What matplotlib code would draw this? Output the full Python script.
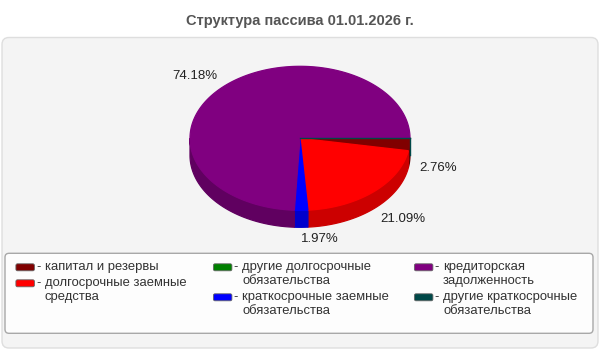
import textwrap
import numpy as np
import matplotlib.pyplot as plt
from matplotlib.patches import FancyBboxPatch, Polygon

plt.rcParams['font.family'] = ['Liberation Sans', 'DejaVu Sans']

title = 'Структура пассива 01.01.2026 г.'
names = ['капитал и резервы',
         'долгосрочные заемные средства',
         'другие долгосрочные обязательства',
         'краткосрочные заемные обязательства',
         'кредиторская задолженность',
         'другие краткосрочные обязательства']
shares = [2.76, 21.09, 0.0, 1.97, 74.18, 0.0]
top_colors = ['#800000', '#ff0000', '#008000', '#0000ff', '#800080', '#004848']
side_colors = ['#600000', '#cc0000', '#006000', '#0000cc', '#600060', '#003636']

fig = plt.figure(figsize=(6, 3.5), dpi=100)
ax = fig.add_axes([0, 0, 1, 1])
ax.set_xlim(0, 600)
ax.set_ylim(350, 0)
ax.axis('off')

# grey panel and title
ax.add_patch(FancyBboxPatch((2, 37.5), 596, 310.5, boxstyle='round,pad=0,rounding_size=7',
                            fc='#f4f4f4', ec='#dedede', lw=1))
ax.text(300, 21.5, title, ha='center', va='center', fontsize=10.5,
        fontweight='bold', color='#555555')

# pseudo 3d pie, clockwise from 3 o'clock
cx, cy, rx, ry, depth = 300, 138.3, 110, 72, 17
total = sum(shares)
bounds = np.concatenate([[0], np.cumsum(shares)]) / total * 2 * np.pi


def arc(t0, t1, dy=0):
    t = np.linspace(t0, t1, max(int(abs(t1 - t0) * 60), 2))
    return np.column_stack([cx + rx * np.cos(t), cy + dy + ry * np.sin(t)])


# a zero slice only shows as an edge when nothing is drawn after it
def edge_visible(i):
    return shares[i] == 0 and all(v == 0 for v in shares[i + 1:])


# side walls (front half only)
for i in range(len(shares)):
    if shares[i] > 0:
        a0, a1 = max(bounds[i], 0), min(bounds[i + 1], np.pi)
        if a1 > a0:
            pts = np.vstack([arc(a0, a1), arc(a1, a0, depth)])
            ax.add_patch(Polygon(pts, closed=True, fc=side_colors[i], ec=side_colors[i], lw=0.9))
    elif edge_visible(i):
        t = bounds[i]
        ex, ey = cx + rx * np.cos(t), cy + ry * max(np.sin(t), 0)
        ax.plot([ex, ex], [ey, ey + depth], color=top_colors[i], lw=1)

# top face
for i in range(len(shares)):
    if shares[i] > 0:
        pts = np.vstack([[cx, cy], arc(bounds[i], bounds[i + 1])])
        ax.add_patch(Polygon(pts, closed=True, fc=top_colors[i], ec=top_colors[i], lw=0.9))
    elif edge_visible(i):
        t = bounds[i]
        ax.plot([cx, cx + rx * np.cos(t)], [cy, cy + ry * np.sin(t)], color=top_colors[i], lw=1)

# percent labels
for i in range(len(shares)):
    if shares[i] <= 0:
        continue
    mid = (bounds[i] + bounds[i + 1]) / 2
    c, s = np.cos(mid), np.sin(mid)
    x = cx + rx * c + 10 * c
    y = cy + ry * s + (depth if s > 0 else 0) + np.sign(s) * 6.5 + 5 * s
    ax.text(x, y, '%.2f%%' % shares[i], ha='left' if c >= 0 else 'right', va='center',
            fontsize=9.5, color='#222222')

# legend
ax.add_patch(FancyBboxPatch((5, 253.3), 588, 80, boxstyle='round,pad=0,rounding_size=4',
                            fc='#fdfdfd', ec='#a8a8a8', lw=1))
col_x = [16, 213.5, 414.5]
per_col = 2
for col in range(len(col_x)):
    y = 267.3
    for k in range(per_col):
        i = col * per_col + k
        x0 = col_x[col]
        ax.add_patch(FancyBboxPatch((x0 + 1.5, y - 1.9), 15.3, 3.8, boxstyle='round,pad=1.6',
                                    fc=top_colors[i], ec='#666666', lw=0.6))
        ax.text(x0 + 22.5, y, '-', ha='center', va='center', fontsize=9.4, color='#333333')
        lines = textwrap.wrap(names[i], 21)
        for j, line in enumerate(lines):
            ax.text(x0 + 28.7, y + 14 * j, line, ha='left', va='center', fontsize=9.4, color='#333333')
        y += 14 * (len(lines) - 1) + 16

fig.savefig('out.png', dpi=100)
